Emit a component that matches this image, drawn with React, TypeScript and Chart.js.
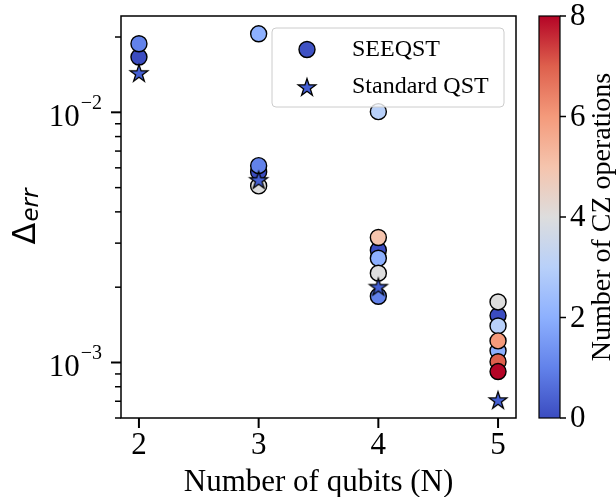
import React, { useEffect, useRef } from 'react';
import { Chart, registerables } from 'chart.js';

Chart.register(...registerables);

// ---------------- data ----------------
const seeqstQubits = [2, 2, 3, 3, 3, 3, 4, 4, 4, 4, 4, 4, 5, 5, 5, 5, 5, 5, 5];
const seeqstErr = [
  0.01663, 0.0188,
  0.00578, 0.00612, 0.0206, 0.00508,
  0.00281, 0.00184, 0.00261, 0.01006, 0.002275, 0.00316,
  0.00154, 0.001113, 0.0014, 0.001746, 0.00122, 0.001007, 0.00092,
];
const seeqstCZ = [
  0, 1,
  0, 1, 2, 4,
  0, 1, 2, 3, 4, 5,
  0, 2, 3, 4, 6, 7, 8,
];
const standardQubits = [2, 3, 4, 5];
const standardErr = [0.01437, 0.00537, 0.00201, 0.000708];

const xTicks = [2, 3, 4, 5];
const yMajorTicks = [1e-3, 1e-2];
const yMajorExp = [-3, -2];
const yMinorTicks = [6e-4, 7e-4, 8e-4, 9e-4, 2e-3, 3e-3, 4e-3, 5e-3, 6e-3, 7e-3, 8e-3, 9e-3, 2e-2];
const cbarTicks = [0, 2, 4, 6, 8];
const cbarMax = 8;
const legendLabels = ['SEEQST', 'Standard QST'];

// ---------------- styles ----------------
const coolwarmStops: number[][] = [
  [59, 76, 192], [98, 130, 234], [141, 176, 254], [184, 208, 249], [221, 221, 221],
  [245, 196, 173], [244, 154, 123], [222, 96, 77], [180, 4, 38],
];
function coolwarm(t: number): string {
  const c = Math.max(0, Math.min(1, t)) * (coolwarmStops.length - 1);
  const i = Math.min(Math.floor(c), coolwarmStops.length - 2);
  const f = c - i;
  const a = coolwarmStops[i], b = coolwarmStops[i + 1];
  const m = (k: number) => Math.round(a[k] + (b[k] - a[k]) * f);
  return `rgb(${m(0)},${m(1)},${m(2)})`;
}
const STAR_COLOR = '#4560d4';
const LEGEND_CIRCLE = '#3f52c4';
const SERIF = '"Liberation Serif", "Times New Roman", serif';
const SANS = '"DejaVu Sans", sans-serif';

function makeStar(color: string): HTMLCanvasElement {
  const size = 24;
  const c = document.createElement('canvas');
  c.width = size; c.height = size;
  const g = c.getContext('2d')!;
  const R = 9.2, r = R * 0.382;
  const cx = size / 2, cy = size / 2 + 0.8;
  g.beginPath();
  for (let k = 0; k < 10; k++) {
    const rad = k % 2 === 0 ? R : r;
    const ang = -Math.PI / 2 + (k * Math.PI) / 5;
    const px = cx + rad * Math.cos(ang), py = cy + rad * Math.sin(ang);
    if (k === 0) g.moveTo(px, py); else g.lineTo(px, py);
  }
  g.closePath();
  g.fillStyle = color; g.fill();
  g.lineWidth = 1.3; g.lineJoin = 'miter'; g.strokeStyle = '#000'; g.stroke();
  return c;
}

export default function App() {
  const ref = useRef<HTMLCanvasElement>(null);
  useEffect(() => {
    const star = makeStar(STAR_COLOR);
    const overlay = {
      id: 'overlay',
      afterDatasetsDraw(chart: any) {
        const ctx: CanvasRenderingContext2D = chart.ctx;
        const { left, right, top, bottom } = chart.chartArea;
        const xs = chart.scales.x, ys = chart.scales.y;
        ctx.save();
        // legend
        const lx = 272, ly = 28, lw = 232, lh = 79, rr = 4;
        ctx.beginPath();
        ctx.roundRect(lx, ly, lw, lh, rr);
        ctx.fillStyle = 'rgba(255,255,255,0.8)';
        ctx.fill();
        ctx.strokeStyle = '#cccccc'; ctx.lineWidth = 1; ctx.stroke();
        ctx.beginPath();
        ctx.arc(307, 49.5, 8, 0, Math.PI * 2);
        ctx.fillStyle = LEGEND_CIRCLE; ctx.fill();
        ctx.strokeStyle = '#000'; ctx.lineWidth = 1.4; ctx.stroke();
        ctx.drawImage(star, 307 - 12, 87 - 12);
        ctx.fillStyle = '#000';
        ctx.font = `24px ${SERIF}`;
        ctx.textAlign = 'left'; ctx.textBaseline = 'middle';
        ctx.fillText(legendLabels[0], 352, 50);
        ctx.fillText(legendLabels[1], 352, 87);

        // frame
        ctx.strokeStyle = '#000'; ctx.lineWidth = 1.5;
        ctx.strokeRect(left, top, right - left, bottom - top);

        // x ticks
        ctx.lineWidth = 2;
        ctx.font = `31px ${SERIF}`;
        ctx.textAlign = 'center'; ctx.textBaseline = 'top';
        for (const t of xTicks) {
          const px = xs.getPixelForValue(t);
          ctx.beginPath(); ctx.moveTo(px, bottom); ctx.lineTo(px, bottom + 10); ctx.stroke();
          ctx.fillText(String(t), px, bottom + 12);
        }
        // y ticks
        for (const t of yMinorTicks) {
          const py = ys.getPixelForValue(t);
          ctx.lineWidth = 1.5;
          ctx.beginPath(); ctx.moveTo(left, py); ctx.lineTo(left - 6, py); ctx.stroke();
        }
        yMajorTicks.forEach((t, i) => {
          const py = ys.getPixelForValue(t);
          ctx.lineWidth = 2;
          ctx.beginPath(); ctx.moveTo(left, py); ctx.lineTo(left - 10, py); ctx.stroke();
          const sup = '\u2212' + String(Math.abs(yMajorExp[i]));
          ctx.textBaseline = 'alphabetic'; ctx.textAlign = 'left';
          ctx.font = `20px ${SERIF}`;
          const ws = ctx.measureText(sup).width;
          ctx.font = `31px ${SERIF}`;
          const wb = ctx.measureText('10').width;
          const rightEdge = left - 19;
          ctx.fillText('10', rightEdge - ws - wb - 1, py + 14);
          ctx.font = `20px ${SERIF}`;
          ctx.fillText(sup, rightEdge - ws, py - 3);
        });

        // x title
        ctx.font = `31px ${SERIF}`;
        ctx.textAlign = 'center'; ctx.textBaseline = 'alphabetic';
        ctx.fillText('Number of qubits (N)', (left + right) / 2, 491);

        // y title Δ_err
        ctx.save();
        ctx.translate(35, (top + bottom) / 2);
        ctx.rotate(-Math.PI / 2);
        ctx.font = `32px ${SANS}`;
        const wd = ctx.measureText('\u0394').width;
        ctx.font = `italic 23px ${SANS}`;
        const we = ctx.measureText('err').width;
        const start = -(wd + we) / 2;
        ctx.textAlign = 'left'; ctx.textBaseline = 'alphabetic';
        ctx.font = `32px ${SANS}`;
        ctx.fillText('\u0394', start, 0);
        ctx.font = `italic 23px ${SANS}`;
        ctx.fillText('err', start + wd + 1, 3);
        ctx.restore();

        // colorbar
        const cbL = 539, cbW = 21;
        const grad = ctx.createLinearGradient(0, bottom, 0, top);
        coolwarmStops.forEach((_, i) => {
          const t = i / (coolwarmStops.length - 1);
          grad.addColorStop(t, coolwarm(t));
        });
        ctx.fillStyle = grad;
        ctx.fillRect(cbL, top, cbW, bottom - top);
        ctx.strokeStyle = '#000'; ctx.lineWidth = 1.2;
        ctx.strokeRect(cbL, top, cbW, bottom - top);
        ctx.fillStyle = '#000';
        ctx.font = `31px ${SERIF}`;
        ctx.textAlign = 'left'; ctx.textBaseline = 'middle';
        for (const t of cbarTicks) {
          const py = bottom - (t / cbarMax) * (bottom - top);
          ctx.lineWidth = 1.5;
          ctx.beginPath(); ctx.moveTo(cbL + cbW, py); ctx.lineTo(cbL + cbW + 6, py); ctx.stroke();
          ctx.fillText(String(t), cbL + cbW + 10, py + 1);
        }
        ctx.save();
        ctx.translate(603, (top + bottom) / 2);
        ctx.rotate(-Math.PI / 2);
        ctx.font = `28px ${SERIF}`;
        ctx.textAlign = 'center'; ctx.textBaseline = 'middle';
        ctx.fillText('Number of CZ operations', 0, 0);
        ctx.restore();

        ctx.restore();
      },
    };

    const chart = new Chart(ref.current!, {
      type: 'scatter',
      data: {
        datasets: [
          {
            label: legendLabels[1],
            data: standardQubits.map((q, i) => ({ x: q, y: standardErr[i] })),
            pointStyle: star as any,
            pointRadius: 9,
            order: 0,
          },
          {
            label: legendLabels[0],
            data: seeqstQubits.map((q, i) => ({ x: q, y: seeqstErr[i] })),
            pointStyle: 'circle',
            pointRadius: 8,
            pointBorderWidth: 1.4,
            pointBorderColor: '#000',
            pointBackgroundColor: seeqstCZ.map((c) => coolwarm(c / cbarMax)),
            order: 1,
          },
        ],
      },
      options: {
        responsive: false,
        animation: false,
        devicePixelRatio: 1,
        layout: { padding: { left: 121, right: 100, top: 16, bottom: 79 } },
        plugins: { legend: { display: false }, tooltip: { enabled: false } },
        scales: {
          x: { type: 'linear', min: 1.85, max: 5.15, display: false },
          y: {
            type: 'logarithmic',
            min: Math.pow(10, -3.215),
            max: Math.pow(10, -1.615),
            display: false,
          },
        },
      },
      plugins: [overlay],
    });
    return () => chart.destroy();
  }, []);

  return (
    <div style={{ position: 'absolute', left: 0, top: 0, width: 616, height: 497, background: '#fff' }}>
      <canvas ref={ref} width={616} height={497} style={{ display: 'block' }} />
    </div>
  );
}
